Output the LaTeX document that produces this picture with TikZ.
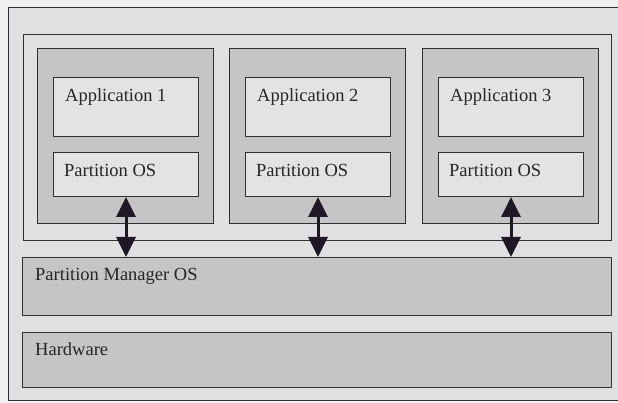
\documentclass[tikz,border=0pt]{standalone}
\usepackage{fontspec}
\setmainfont{Liberation Serif}
\usepackage{tikz}
\usetikzlibrary{arrows.meta}

\definecolor{paper}{RGB}{240,240,241}
\definecolor{lightfill}{RGB}{224,224,226}
\definecolor{midfill}{RGB}{197,197,200}
\definecolor{appfill}{RGB}{227,227,229}
\definecolor{linegray}{RGB}{48,48,48}
\definecolor{arrowcol}{RGB}{30,24,36}
\definecolor{textgray}{RGB}{38,38,38}

\tikzset{
	box/.style={draw=linegray, line width=1pt, fill=#1, anchor=north west, inner sep=0pt},
	lbl/.style={anchor=base west, inner sep=0pt, text=textgray, font=\fontsize{18.5}{20}\selectfont},
	link/.style={line width=3pt, draw=arrowcol, {Triangle[width=19pt,length=20pt]}-{Triangle[width=19pt,length=20pt]}}
}

\begin{document}
\begin{tikzpicture}[x=1pt,y=-1pt]
		\useasboundingbox (0,0) rectangle (618,403);
		\fill[paper] (0,0) rectangle (618,403);
		\fill[lightfill] (8,8) rectangle (618,400);
		\draw[linegray, line width=1pt] (618,8) -- (8,8) -- (8,400) -- (618,400);
		\node[box=lightfill, minimum width=588pt, minimum height=206pt] (group) at (23,34) {};
		\node[box=midfill, minimum width=176pt, minimum height=175pt] (p1) at (37,48) {};
		\node[box=midfill, minimum width=176pt, minimum height=175pt] (p2) at (229,48) {};
		\node[box=midfill, minimum width=176pt, minimum height=175pt] (p3) at (422,48) {};
		\node[box=appfill, minimum width=145pt, minimum height=59pt] (a1) at (53,77) {};
		\node[box=appfill, minimum width=145pt, minimum height=59pt] (a2) at (245,77) {};
		\node[box=appfill, minimum width=145pt, minimum height=59pt] (a3) at (438,77) {};
		\node[box=appfill, minimum width=145pt, minimum height=44pt] (o1) at (53,152) {};
		\node[box=appfill, minimum width=145pt, minimum height=44pt] (o2) at (245,152) {};
		\node[box=appfill, minimum width=145pt, minimum height=44pt] (o3) at (438,152) {};
		\node[box=midfill, minimum width=589pt, minimum height=58pt] (pm) at (22,257) {};
		\node[box=midfill, minimum width=589pt, minimum height=55pt] (hw) at (22,332) {};
		\node[lbl] (ta1) at ([shift={(12,25)}]a1.north west) {Application 1};
		\node[lbl] (ta2) at ([shift={(12,25)}]a2.north west) {Application 2};
		\node[lbl] (ta3) at ([shift={(12,25)}]a3.north west) {Application 3};
		\node[lbl] (to1) at ([shift={(11,25)}]o1.north west) {Partition OS};
		\node[lbl] (to2) at ([shift={(11,25)}]o2.north west) {Partition OS};
		\node[lbl] (to3) at ([shift={(11,25)}]o3.north west) {Partition OS};
		\node[lbl] (tpm) at ([shift={(13,23)}]pm.north west) {Partition Manager OS};
		\node[lbl] (thw) at ([shift={(13,23)}]hw.north west) {Hardware};
		\draw[link] (o1.south) -- (o1.south |- pm.north);
		\draw[link] (o2.south) -- (o2.south |- pm.north);
		\draw[link] (o3.south) -- (o3.south |- pm.north);
	\end{tikzpicture}
\end{document}
